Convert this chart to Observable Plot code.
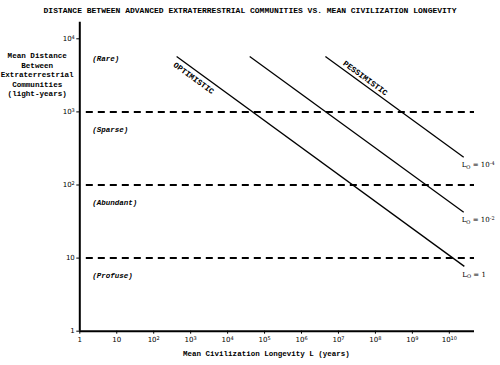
<!DOCTYPE html>
<html><head><meta charset="utf-8">
<script src="https://cdn.jsdelivr.net/npm/d3@7"></script>
<script src="https://cdn.jsdelivr.net/npm/@observablehq/plot@0.6"></script>
<style>
body{margin:0;background:#fff;}
#title{font:bold 8px "Liberation Mono",monospace;text-align:center;height:18px;line-height:22px;color:#000;white-space:nowrap;}
</style></head><body>
<div id="title">DISTANCE BETWEEN ADVANCED EXTRATERRESTRIAL COMMUNITIES VS. MEAN CIVILIZATION LONGEVITY</div>
<div id="chart"></div>
<script>
// tick values
const xTicks = [1, 10, 1e2, 1e3, 1e4, 1e5, 1e6, 1e7, 1e8, 1e9, 1e10];
const yTicks = [1, 10, 1e2, 1e3, 1e4];
// dashed thresholds
const thresholds = [10, 100, 1000];
// region labels
const regionNames = ["(Rare)", "(Sparse)", "(Abundant)", "(Profuse)"];
const regionD = [5400, 570, 57, 5.7];
// scenario lines (start/end points)
const scenarioNames = ["Lₒ = 1", "Lₒ = 10⁻²", "Lₒ = 10⁻⁴"];
const startL = [417, 39600, 4.43e6];
const startD = [5730, 5730, 5730];
const endL = [2.55e10, 2.45e10, 2.45e10];
const endD = [7.7, 42.5, 240];
// rotated annotations
const annNames = ["OPTIMISTIC", "PESSIMISTIC"];
const annL = [1213, 5.35e7];
const annD = [2900, 2900];

const xLabel = "Mean Civilization Longevity L (years)";
const yLabel = "Mean Distance\nBetween\nExtraterrestrial\nCommunities\n(light-years)";

const supDigits = {"0":"⁰","1":"¹","2":"²","3":"³","4":"⁴","5":"⁵","6":"⁶","7":"⁷","8":"⁸","9":"⁹","-":"⁻"};
const sup = v => {
  const e = Math.round(Math.log10(v));
  if (e === 0) return "1";
  if (e === 1) return "10";
  return "10" + String(e).split("").map(c => supDigits[c]).join("");
};

const segs = scenarioNames.map((name, i) => ({name, L1: startL[i], D1: startD[i], L2: endL[i], D2: endD[i]}));
const regions = regionNames.map((name, i) => ({name, D: regionD[i]}));
const anns = annNames.map((name, i) => ({name, L: annL[i], D: annD[i]}));

const mono = '"Liberation Mono", monospace';
const tickFont = '"DejaVu Sans", sans-serif';

const chart = Plot.plot({
  width: 500,
  height: 347,
  marginLeft: 79.3,
  marginRight: 26,
  marginTop: 3.7,
  marginBottom: 34.3,
  style: {fontFamily: tickFont, fontSize: "6.5px", color: "#000", background: "#fff"},
  x: {type: "log", domain: [1, 4.8e10]},
  y: {type: "log", domain: [1, 16870]},
  marks: [
    Plot.ruleY(thresholds, {x1: 1.5, x2: 4.8e10, stroke: "#000", strokeWidth: 2, strokeDasharray: "7,5"}),
    Plot.link(segs, {x1: "L1", y1: "D1", x2: "L2", y2: "D2", stroke: "#000", strokeWidth: 1.3}),
    Plot.text(segs, {x: "L2", y: "D2", text: "name", textAnchor: "start", dx: -2, dy: 8, fontFamily: '"DejaVu Serif", serif', fontSize: 7}),
    Plot.text(anns, {x: "L", y: "D", text: "name", rotate: 36.1, fontFamily: mono, fontWeight: "bold", fontSize: 8}),
    Plot.text(regions, {x: 2.16, y: "D", text: "name", textAnchor: "start", fontFamily: mono, fontStyle: "italic", fontWeight: "bold", fontSize: 7.5}),
    Plot.axisX({ticks: xTicks, tickFormat: sup, tickSize: 3, tickPadding: 3, label: null, fontSize: 7}),
    Plot.axisY({ticks: yTicks, tickFormat: sup, tickSize: 3, tickPadding: 2, label: null, fontSize: 7}),
    Plot.ruleX([1], {stroke: "#000", strokeWidth: 2}),
    Plot.ruleY([1], {stroke: "#000", strokeWidth: 2}),
    Plot.text([yLabel], {y: 3300, frameAnchor: "left", dx: -42.6, textAnchor: "middle", lineHeight: 1.25, fontFamily: mono, fontWeight: "bold", fontSize: 7.6}),
    Plot.text([xLabel], {x: 1.12e5, frameAnchor: "bottom", dy: 24.5, fontFamily: mono, fontWeight: "bold", fontSize: 7.5})
  ]
});
document.getElementById("chart").appendChild(chart);

// Render Unicode super/subscripts as real raised/lowered tspans for legibility
const back = {"⁰":"0","¹":"1","²":"2","³":"3","⁴":"4","⁵":"5","⁶":"6","⁷":"7","⁸":"8","⁹":"9","⁻":"-"};
const NS = "http://www.w3.org/2000/svg";
chart.querySelectorAll("text").forEach(t => {
  if (t.querySelector("tspan")) return;
  const s = t.textContent;
  const m = s.match(/^(.*?)([⁰¹²³⁴⁵⁶⁷⁸⁹⁻]+)$/);
  const hasSub = s.includes("ₒ");
  if (!m && !hasSub) return;
  let base = m ? m[1] : s;
  const supStr = m ? m[2].split("").map(c => back[c]).join("") : null;
  t.textContent = "";
  const parts = base.split("ₒ");
  parts.forEach((p, i) => {
    if (i > 0) {
      const sub = document.createElementNS(NS, "tspan");
      sub.setAttribute("font-size", "5");
      sub.setAttribute("dy", "1.8");
      sub.textContent = "O";
      t.appendChild(sub);
      const back2 = document.createElementNS(NS, "tspan");
      back2.setAttribute("dy", "-1.8");
      back2.textContent = p;
      t.appendChild(back2);
    } else {
      t.appendChild(document.createTextNode(p));
    }
  });
  if (supStr) {
    const sp = document.createElementNS(NS, "tspan");
    sp.setAttribute("font-size", "5");
    sp.setAttribute("dy", "-2.5");
    sp.textContent = supStr;
    t.appendChild(sp);
  }
});
</script>
</body></html>
